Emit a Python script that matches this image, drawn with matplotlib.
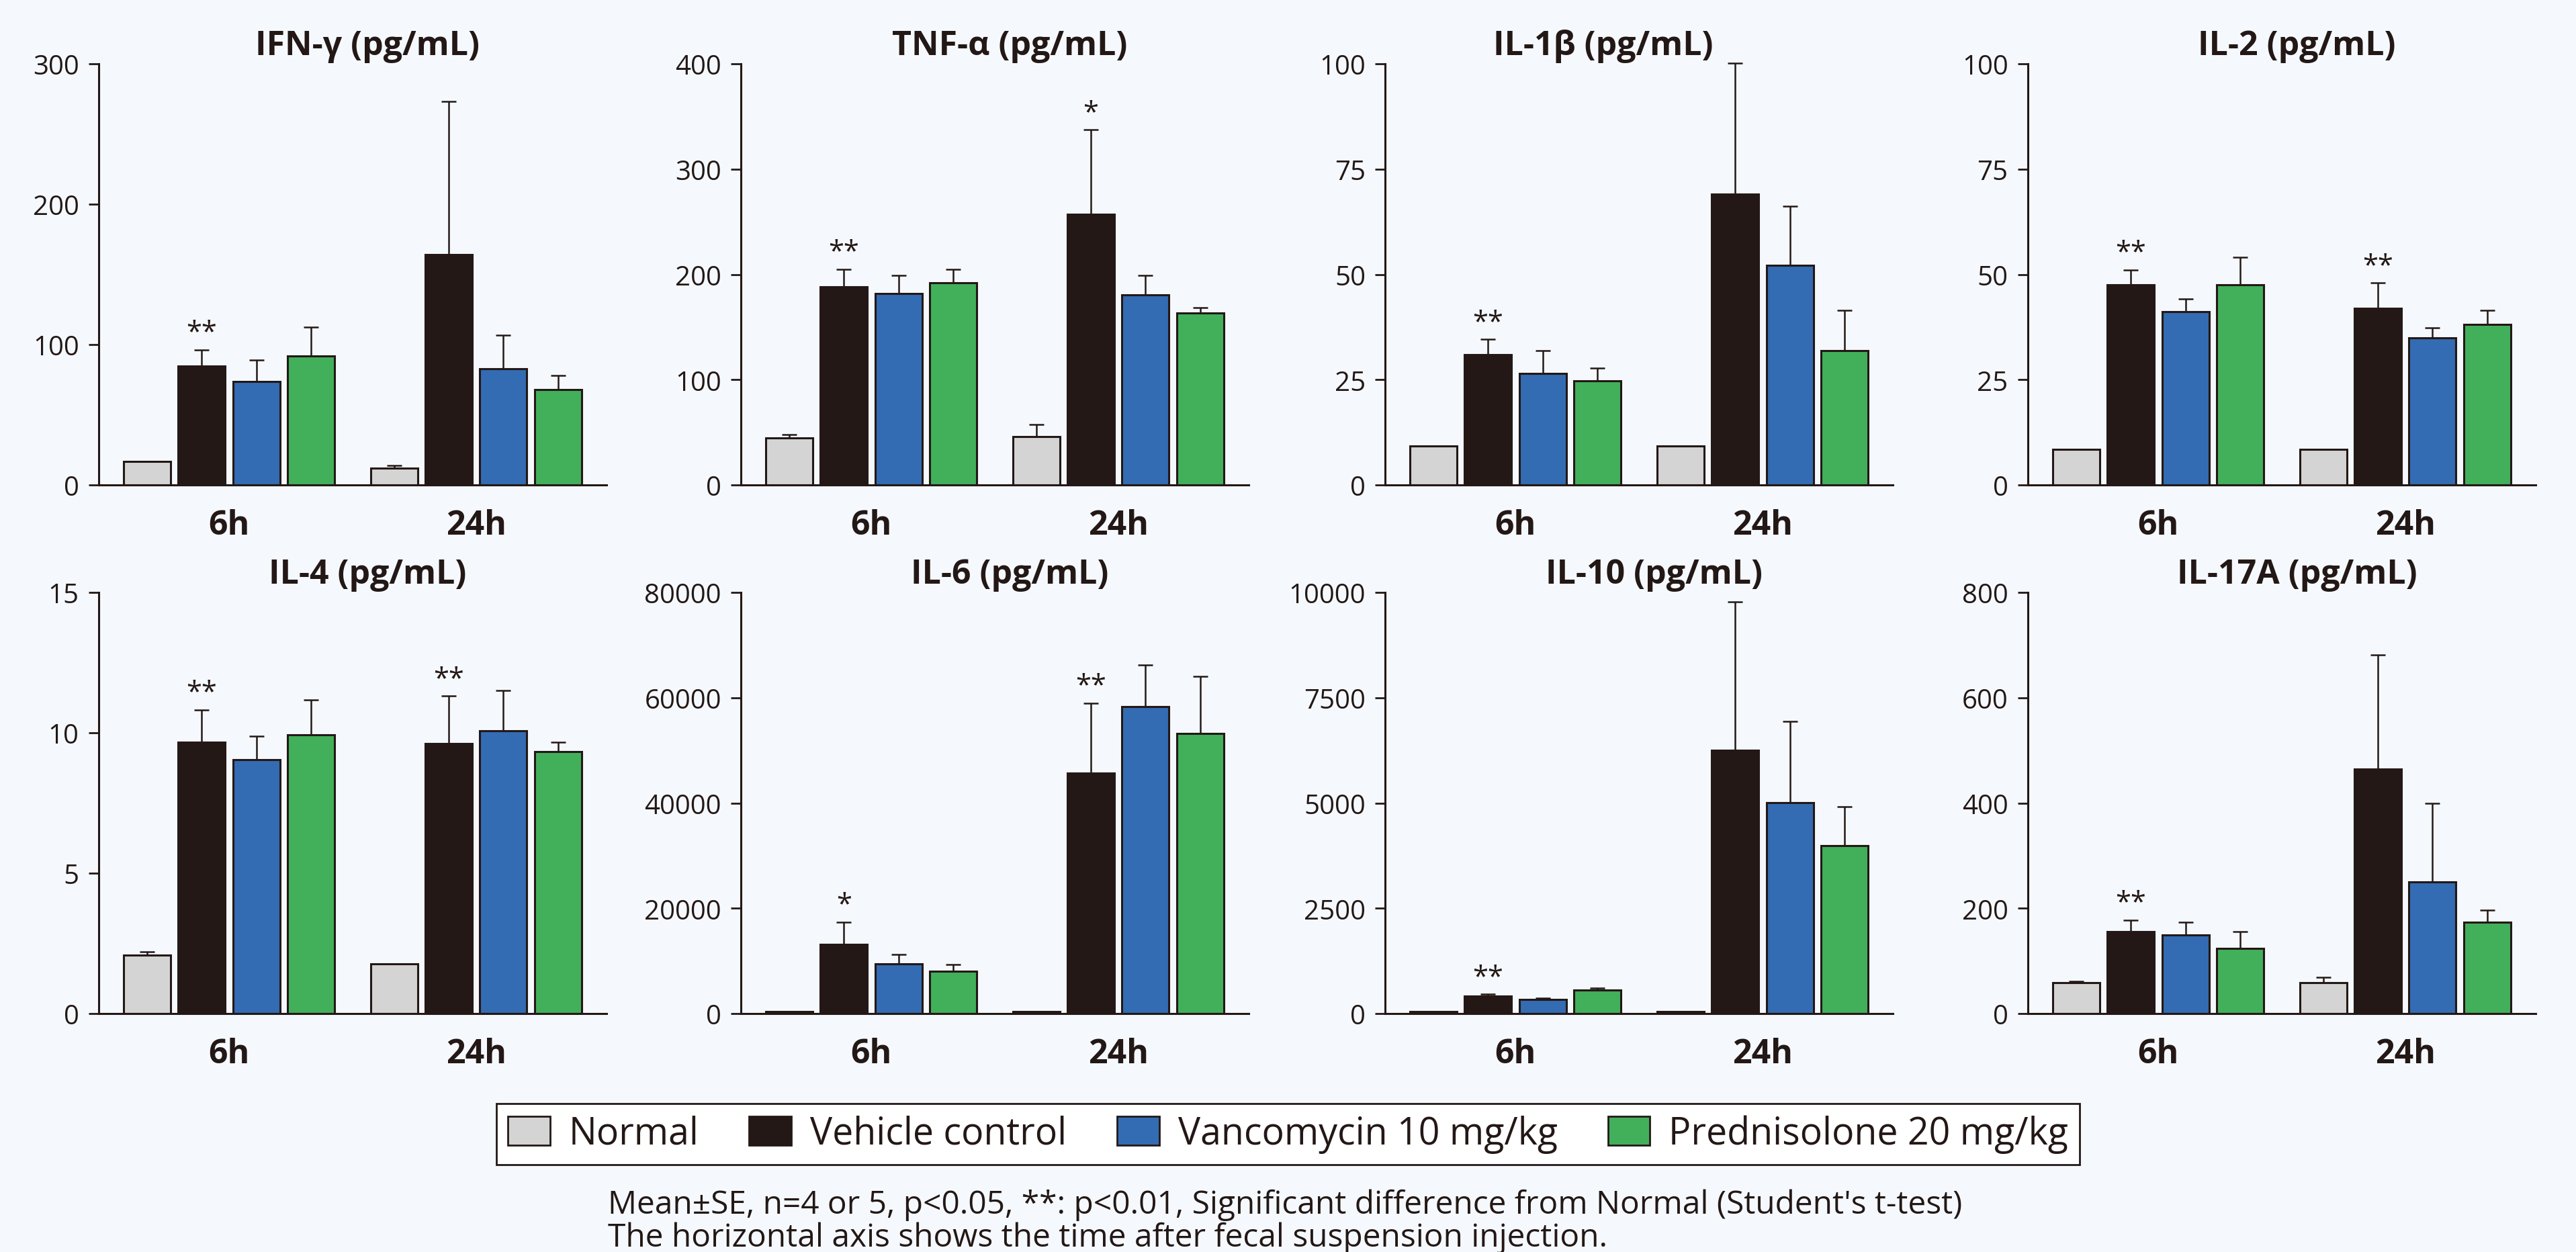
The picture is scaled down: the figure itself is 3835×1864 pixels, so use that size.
import matplotlib
matplotlib.use("Agg")
import matplotlib.pyplot as plt
from matplotlib.patches import Patch

plt.rcParams["font.family"] = ["Open Sans", "DejaVu Sans"]

groups = ["Normal", "Vehicle control", "Vancomycin 10 mg/kg", "Prednisolone 20 mg/kg"]
colors = ["#d4d4d4", "#231816", "#336cb3", "#42b05a"]
timepoints = ["6h", "24h"]
ink = "#231816"
bg = "#f5f9fd"

# values ordered: 6h (Normal, Vehicle, Vanco, Pred), then 24h (same order)
ifng_mean = [16.6, 84.6, 73.9, 91.7, 12.2, 164.0, 82.9, 67.8]
ifng_err = [0, 11.7, 14.9, 21.0, 1.5, 109.0, 23.9, 10.2]
ifng_stars = ["", "**", "", "", "", "", "", ""]

tnfa_mean = [44.6, 188.0, 182.0, 191.9, 46.2, 257.2, 180.8, 163.6]
tnfa_err = [3.5, 16.9, 17.3, 13.0, 11.4, 80.0, 18.5, 4.9]
tnfa_stars = ["", "**", "", "", "", "*", "", ""]

il1b_mean = [9.2, 31.0, 26.5, 24.8, 9.2, 69.1, 52.2, 31.9]
il1b_err = [0, 3.6, 5.4, 3.0, 0, 31.0, 14.0, 9.6]
il1b_stars = ["", "**", "", "", "", "", "", ""]

il2_mean = [8.5, 47.6, 41.1, 47.6, 8.5, 42.0, 35.0, 38.2]
il2_err = [0, 3.5, 3.1, 6.4, 0, 6.0, 2.3, 3.3]
il2_stars = ["", "**", "", "", "", "**", "", ""]

il4_mean = [2.08, 9.67, 9.05, 9.94, 1.78, 9.61, 10.07, 9.33]
il4_err = [0.13, 1.15, 0.83, 1.23, 0, 1.70, 1.43, 0.33]
il4_stars = ["", "**", "", "", "", "**", "", ""]

il6_mean = [400, 13150, 9440, 8010, 400, 45700, 58320, 53240]
il6_err = [0, 4230, 1820, 1360, 0, 13270, 7940, 10810]
il6_stars = ["", "*", "", "", "", "**", "", ""]

il10_mean = [50, 423, 334, 561, 50, 6257, 5012, 3995]
il10_err = [0, 41, 32, 41, 0, 3523, 1920, 911]
il10_stars = ["", "**", "", "", "", "", "", ""]

il17a_mean = [58.6, 156.2, 149.1, 123.7, 58.6, 464.8, 250.6, 173.8]
il17a_err = [3.2, 21.5, 24.7, 31.9, 10.4, 216.8, 149.1, 22.2]
il17a_stars = ["", "**", "", "", "", "", "", ""]

titles = ["IFN-γ (pg/mL)", "TNF-α (pg/mL)", "IL-1β (pg/mL)", "IL-2 (pg/mL)",
          "IL-4 (pg/mL)", "IL-6 (pg/mL)", "IL-10 (pg/mL)", "IL-17A (pg/mL)"]
yticks = [[0, 100, 200, 300], [0, 100, 200, 300, 400], [0, 25, 50, 75, 100],
          [0, 25, 50, 75, 100], [0, 5, 10, 15], [0, 20000, 40000, 60000, 80000],
          [0, 2500, 5000, 7500, 10000], [0, 200, 400, 600, 800]]
means = [ifng_mean, tnfa_mean, il1b_mean, il2_mean, il4_mean, il6_mean, il10_mean, il17a_mean]
errs = [ifng_err, tnfa_err, il1b_err, il2_err, il4_err, il6_err, il10_err, il17a_err]
stars = [ifng_stars, tnfa_stars, il1b_stars, il2_stars, il4_stars, il6_stars, il10_stars, il17a_stars]
title_x = [0.53, 0.53, 0.43, 0.53, 0.53, 0.53, 0.53, 0.53]

fig = plt.figure(figsize=(38.35, 18.65), dpi=100, facecolor=bg)

lefts = [0.0383, 0.2876, 0.5377, 0.7872]
bottoms = [0.6123, 0.1903]
w, h = 0.1971, 0.3362

group_gap = 4.52
xpos = [i for i in range(4)] + [group_gap + i for i in range(4)]
bar_colors = colors + colors

for k in range(8):
    ax = fig.add_axes([lefts[k % 4], bottoms[k // 4], w, h])
    ax.set_facecolor(bg)
    ax.errorbar(xpos, means[k], yerr=errs[k], fmt="none", ecolor=ink,
                elinewidth=1.8, capsize=8, capthick=1.8, zorder=1, clip_on=False)
    ax.bar(xpos, means[k], width=0.86, color=bar_colors, edgecolor=ink,
           linewidth=2.2, zorder=2)
    top = yticks[k][-1]
    for x, m, e, s in zip(xpos, means[k], errs[k], stars[k]):
        if s:
            ax.annotate(s, (x, m + e), xytext=(0, 3), textcoords="offset points",
                        ha="center", va="bottom", fontsize=30, color=ink)
    ax.set_xlim(-0.885, 8.405)
    ax.set_ylim(0, top)
    ax.set_yticks(yticks[k])
    ax.set_yticklabels([str(t) for t in yticks[k]])
    ax.set_xticks([1.5, group_gap + 1.5])
    ax.set_xticklabels(timepoints, fontsize=36, fontweight="bold", color=ink)
    ax.tick_params(axis="x", length=0, pad=25)
    ax.tick_params(axis="y", length=11, width=2, color=ink, labelsize=29,
                   labelcolor=ink, pad=10)
    for side in ["top", "right"]:
        ax.spines[side].set_visible(False)
    for side in ["left", "bottom"]:
        ax.spines[side].set_linewidth(2.2)
        ax.spines[side].set_color(ink)
    ax.set_title(titles[k], fontsize=36, fontweight="bold", color=ink, pad=10,
                 x=title_x[k])

handles = [Patch(facecolor=c, edgecolor=ink, linewidth=2) for c in colors]
leg = fig.legend(handles, groups, ncol=4, loc="center", bbox_to_anchor=(0.5, 0.0943),
                 fontsize=40, frameon=True, fancybox=False, edgecolor=ink,
                 facecolor="white", framealpha=1, handlelength=1.13, handleheight=0.83,
                 handletextpad=0.5, columnspacing=1.35, borderpad=0.3)
leg.get_frame().set_linewidth(2)
for t in leg.get_texts():
    t.set_color(ink)

fig.text(0.236, 0.038, "Mean±SE, n=4 or 5, p<0.05, **: p<0.01, Significant difference from Normal (Student's t-test)",
         fontsize=34.5, color=ink, ha="left", va="center")
fig.text(0.236, 0.0118, "The horizontal axis shows the time after fecal suspension injection.",
         fontsize=34.5, color=ink, ha="left", va="center")

fig.savefig("out.png", dpi=100, facecolor=bg)
